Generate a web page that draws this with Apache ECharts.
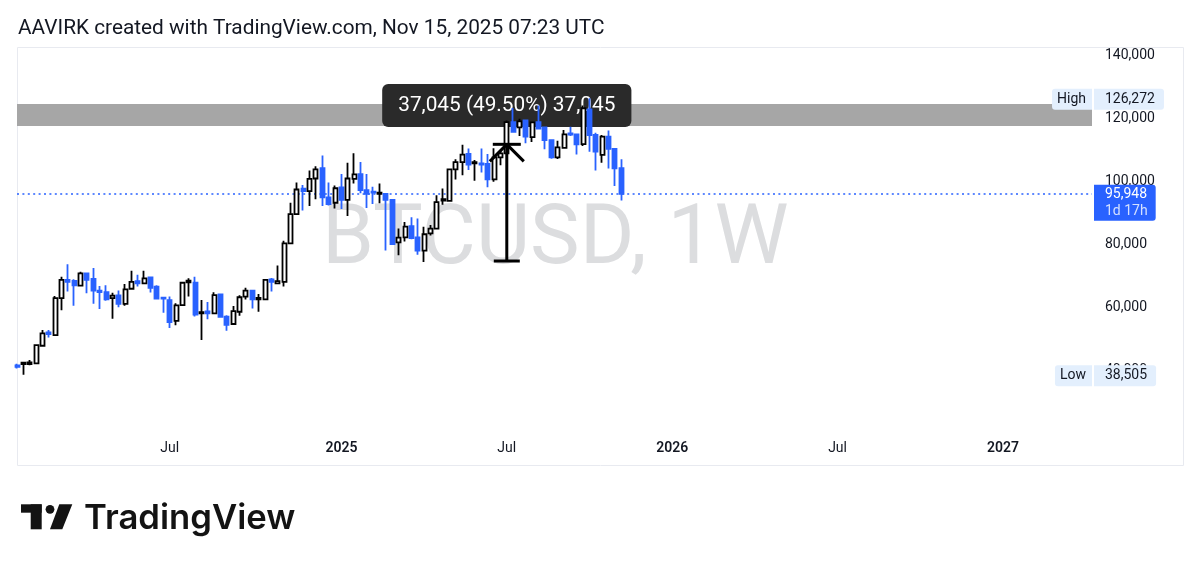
<!DOCTYPE html>
<html>
  <head>
    <meta charset="utf-8">
    <title>BTCUSD, 1W</title>
    <script src="https://cdn.jsdelivr.net/npm/echarts@6/dist/echarts.min.js"></script>
    <style>
      html, body { margin: 0; padding: 0; background: #fff; }
      #main { width: 1200px; height: 570px; }
    </style>
  </head>
  <body>
    <div id="main"></div>
    <script>
      // weekly candles, oldest first
      const opens = [
        41500,41900,41900,42100,47700,51900,51100,62800,68600,68300,
        66800,70700,68900,65200,64700,62800,63700,61000,65800,68200,
        67500,69400,66500,63000,62200,55600,60600,67800,67700,58000,
        58600,58000,64000,56900,54600,58500,63300,65200,62400,62400,
        68800,67500,68000,80200,89500,97600,96800,100800,104100,94800,
        93100,98000,94000,100700,102200,97100,96600,95900,95900,94000,
        80500,82100,85700,82100,77900,83400,84900,93800,93700,103700,
        106000,108600,105600,105600,105400,100500,107500,108800,118700,117000,
        119200,113900,118700,117000,113000,107500,110500,115100,114800,111700,
        122700,114600,108300,114100,110200,104100
      ];
      const closes = [
        41000,42300,42400,47900,51600,51400,62800,68600,68000,66900,
        70700,68600,65200,64700,62400,63600,61000,65600,68000,67500,
        69100,66100,62700,62700,55200,60500,67700,68400,57600,58400,
        58000,63800,56900,54300,58700,63100,65200,62400,62900,68600,
        68000,68200,80200,89500,97300,96800,100700,103700,94800,92700,
        97700,94000,100800,102100,97100,95900,96300,96300,94000,80000,
        82000,85500,81900,77900,83100,84900,93300,94200,103700,106000,
        108400,105200,106000,105200,100500,107500,108800,118700,115600,118900,
        114100,118600,116600,113000,107500,110700,114800,114700,111600,123100,
        114600,109300,114100,110200,104000,95948
      ];
      const lows = [
        40500,38505,41500,42000,47400,50300,50800,59000,64900,60400,
        66500,64400,61000,59400,62000,56300,59900,60400,65600,66500,
        67400,64600,62500,58200,53300,54200,60500,63300,57000,49500,
        56100,57800,56800,52500,54400,57200,62400,59500,58500,62200,
        64900,67400,66500,80100,89200,90600,92100,94200,92100,92200,
        91300,91100,88900,99200,96100,91400,92700,92900,77900,79700,
        76400,80800,81500,76600,74300,82700,84600,92500,93500,100500,
        101800,103500,100100,102700,98000,99800,105000,108600,115300,114300,
        112000,112400,116400,110100,107100,107000,110300,114300,108400,111100,
        109300,103300,105800,104000,98400,93800
      ];
      const highs = [
        42000,42500,43200,48200,52700,52700,63500,69600,73600,68800,
        71200,70900,72400,66700,66900,64500,65200,67300,71500,70200,
        71500,69600,66900,63100,63300,61200,67900,69100,69600,62200,
        61600,64700,64300,57400,60300,63700,66100,65400,64100,68800,
        69200,73200,81000,93100,99500,98700,103300,104700,108100,99500,
        98600,102200,105800,108800,106000,102200,98200,99200,96100,94100,
        84900,87000,88500,88100,85500,86000,95500,97600,104000,106900,
        111500,110300,106700,110300,108600,110400,109800,119200,123200,119800,
        119400,118900,124000,117200,113200,112800,116200,117200,115100,124000,
        126272,115300,114600,116000,110300,106900
      ];

      const tickLabels = {
        '2024-07-01': 'Jul', '2025-01-06': '2025', '2025-07-07': 'Jul',
        '2026-01-05': '2026', '2026-07-06': 'Jul', '2027-01-04': '2027'
      };
      const lastPrice = 95948, allTimeHigh = 126272, allTimeLow = 38505;
      const bandTop = 124440, bandBottom = 117460;
      const arrowFrom = 74600, arrowTo = 111645, arrowWeek = '2025-07-07';
      const measureLabel = '37,045 (49.50%) 37,045', measureY = 123970;

      // one category per week, the axis runs on past the last candle
      const weeks = [];
      for (let i = 0; i < 170; i++) {
        weeks.push(new Date(Date.UTC(2024, 0, 15 + i * 7)).toISOString().slice(0, 10));
      }
      const lastWeek = weeks[weeks.length - 1];
      const candles = opens.map((o, i) => [o, closes[i], lows[i], highs[i]]);

      const BLUE = '#2962ff', TEXT = '#131722', TAG = '#e3effd';
      const FONT = 'Roboto';

      function tag(value, text, side) {
        return {
          coord: [lastWeek, value],
          symbol: 'circle', symbolSize: 0,
          label: {
            show: true, formatter: text, position: side, distance: side === 'left' ? 0 : 2,
            offset: [0, 1],
            backgroundColor: TAG, color: TEXT, fontFamily: FONT, fontSize: 14,
            lineHeight: 20, borderRadius: side === 'left' ? [3, 0, 0, 3] : [0, 3, 3, 0],
            padding: side === 'left' ? [1, 6, 0, 5] : [1, 9, 0, 11]
          }
        };
      }

      const chart = echarts.init(document.getElementById('main'), null, { renderer: 'canvas' });
      chart.setOption({
        animation: false,
        backgroundColor: '#fff',
        title: {
          text: 'AAVIRK created with TradingView.com, Nov 15, 2025 07:23 UTC',
          left: 13, top: 13,
          textStyle: { fontFamily: FONT, fontSize: 20.8, fontWeight: 400, color: TEXT }
        },
        grid: { left: 17, right: 108, top: 55, bottom: 137 },
        xAxis: {
          type: 'category', data: weeks, boundaryGap: false,
          axisLine: { show: false }, axisTick: { show: false }, splitLine: { show: false },
          axisLabel: {
            margin: 8, fontFamily: FONT, fontSize: 14, color: TEXT, hideOverlap: false,
            interval: (i, v) => v in tickLabels,
            formatter: v => {
              const t = tickLabels[v] || '';
              return t === 'Jul' ? t : '{y|' + t + '}';
            },
            rich: { y: { fontFamily: FONT, fontSize: 14, fontWeight: 600, color: TEXT } }
          }
        },
        yAxis: {
          type: 'value', position: 'right', min: 20000, max: 140000, interval: 20000, scale: true,
          axisLine: { show: false }, axisTick: { show: false }, splitLine: { show: false },
          axisLabel: {
            margin: 13, showMinLabel: false, fontFamily: FONT, fontSize: 14, color: TEXT,
            formatter: v => v.toLocaleString('en-US')
          }
        },
        graphic: [
          { type: 'rect', z: -10, shape: { x: 17.5, y: 47.5, width: 1166, height: 418 },
            style: { fill: 'none', stroke: '#e8eaf0', lineWidth: 1 } },
          { type: 'text', z: -5, x: 322, y: 242,
            style: { text: 'BTCUSD, 1W', font: '400 83.5px Roboto', fill: '#dcdddf', textVerticalAlign: 'middle' } },
          // logo
          { type: 'rect', shape: { x: 21, y: 504.3, width: 20.7, height: 8.4 }, style: { fill: '#131313' } },
          { type: 'rect', shape: { x: 30.7, y: 504.3, width: 11, height: 25 }, style: { fill: '#131313' } },
          { type: 'circle', shape: { cx: 50, cy: 509.3, r: 4.4 }, style: { fill: '#131313' } },
          { type: 'polygon', shape: { points: [[59.3, 504.3], [72.3, 504.3], [62.3, 529.3], [50, 529.3]] }, style: { fill: '#131313' } },
          { type: 'text', x: 84, y: 519,
            style: { text: 'TradingView', font: '600 34.7px Inter', fill: '#131313', textVerticalAlign: 'middle' } }
        ],
        series: [
          {
            // band and measure box, under the candles
            name: 'annotations', type: 'line', data: [], z: 1,
            markArea: {
              silent: true, z: 0,
              itemStyle: { color: '#a6a6a6' },
              data: [[{ yAxis: bandTop }, { yAxis: bandBottom }]]
            },
            markPoint: {
              silent: true, z: 1, symbol: 'circle', symbolSize: 0,
              data: [{
                coord: [arrowWeek, measureY],
                label: {
                  show: true, position: 'inside', formatter: measureLabel,
                  backgroundColor: '#2a2a2a', borderRadius: 6, color: '#fff',
                  fontFamily: FONT, fontSize: 20.8, lineHeight: 23, padding: [10, 16, 10, 16]
                }
              }]
            }
          },
          {
            name: 'BTCUSD', type: 'candlestick', data: candles, z: 3,
            barWidth: 4.5,
            itemStyle: {
              color: '#fff', borderColor: '#000', color0: BLUE, borderColor0: BLUE, borderWidth: 1.8
            },
            markLine: {
              silent: true, z: 2, symbol: 'none', animation: false,
              lineStyle: { color: BLUE, type: [2, 3.4], width: 1.5 },
              label: { show: false },
              data: [{ yAxis: lastPrice }]
            },
            markPoint: {
              silent: true, z: 6, symbol: 'circle', symbolSize: 0,
              data: [
                tag(allTimeHigh, 'High', 'left'),
                tag(allTimeHigh, '126,272', 'right'),
                tag(allTimeLow, 'Low', 'left'),
                tag(allTimeLow, '38,505', 'right'),
                {
                  coord: [lastWeek, lastPrice],
                  label: {
                    show: true, position: [2, -9], align: 'left', verticalAlign: 'top',
                    formatter: '{a|95,948}\n{b|1d 17h}',
                    backgroundColor: BLUE, borderRadius: [0, 3, 3, 0], padding: [1, 8, 1, 11],
                    rich: {
                      a: { color: '#fff', fontFamily: FONT, fontSize: 14, lineHeight: 17 },
                      b: { color: '#d4e0ff', fontFamily: FONT, fontSize: 14, lineHeight: 17 }
                    }
                  }
                }
              ]
            }
          },
          {
            name: 'arrow', type: 'custom', z: 4, silent: true, clip: false,
            data: [[arrowWeek, arrowFrom, arrowTo]],
            encode: { x: 0, y: [1, 2] },
            renderItem: function (params, api) {
              const a = api.coord([api.value(0), api.value(1)]);
              const b = api.coord([api.value(0), api.value(2)]);
              const st = { stroke: '#000', lineWidth: 3 };
              const seg = (x1, y1, x2, y2) => ({ type: 'line', shape: { x1, y1, x2, y2 }, style: st });
              return {
                type: 'group',
                children: [
                  seg(a[0], a[1], b[0], b[1]),
                  seg(a[0] - 13, a[1], a[0] + 13, a[1]),
                  seg(b[0] - 14, b[1], b[0] + 14, b[1]),
                  seg(b[0], b[1], b[0] - 17, b[1] + 17),
                  seg(b[0], b[1], b[0] + 17, b[1] + 17)
                ]
              };
            }
          }
        ]
      });
    </script>
  </body>
</html>
